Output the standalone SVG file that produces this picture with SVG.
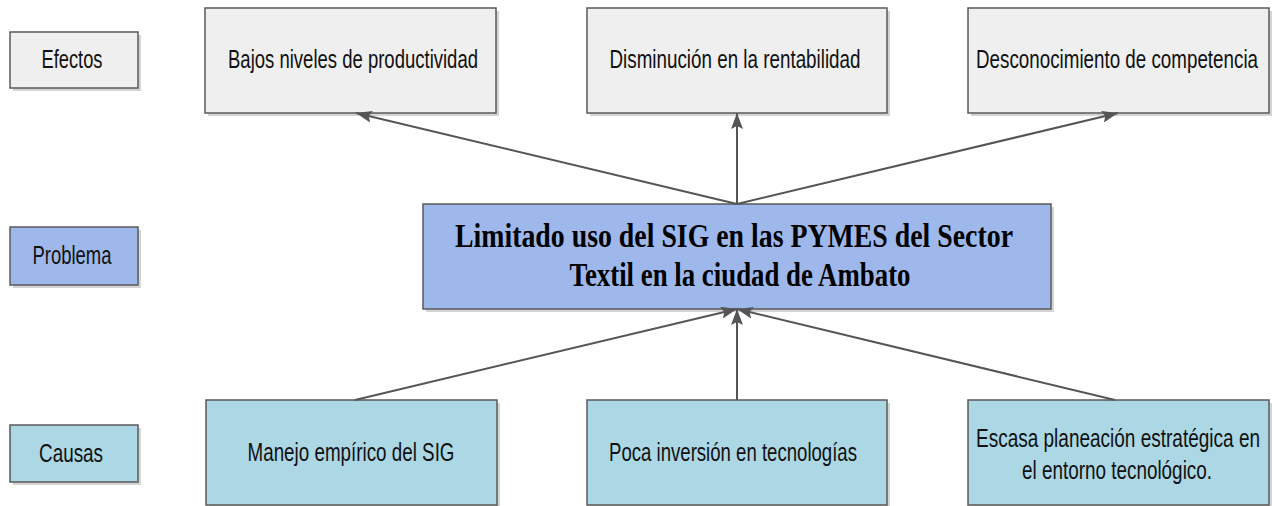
<svg xmlns="http://www.w3.org/2000/svg" width="1272" height="506" viewBox="0 0 1272 506">
<style>
.box{stroke:#5a5a5a;stroke-width:1.5}
.sh{fill:#d4d4d4}
.gray{fill:#efefef}
.blue{fill:#9fb8ec}
.cyan{fill:#acd7e4}
.lbl{font-family:"Liberation Sans",Arial,sans-serif;font-size:18px;fill:#111;text-anchor:middle}
.ttl{font-family:"Liberation Serif","Times New Roman",serif;font-size:33px;font-weight:bold;fill:#000;text-anchor:middle}
.con{stroke:#555;stroke-width:2;fill:none;marker-end:url(#ah)}
</style>
<defs>
<marker id="ah" viewBox="0 0 16 12" refX="16" refY="6" markerWidth="16" markerHeight="12" markerUnits="userSpaceOnUse" orient="auto">
<path d="M0,0 L16,6 L0,12 L3,6 Z" fill="#555"/>
</marker>
</defs>
<rect width="1272" height="506" fill="#fff"/>

<g id="efectos">
<rect class="sh" x="13" y="35" width="128" height="56"/>
<rect class="box gray" x="10" y="32" width="128" height="56"/>
<text class="lbl" transform="translate(72,68) scale(1,1.38)" textLength="61" lengthAdjust="spacingAndGlyphs">Efectos</text>
</g>
<g id="problema">
<rect class="sh" x="13" y="230" width="128" height="58"/>
<rect class="box blue" x="10" y="227" width="128" height="58"/>
<text class="lbl" transform="translate(72,264) scale(1,1.38)" textLength="79" lengthAdjust="spacingAndGlyphs">Problema</text>
</g>
<g id="causas">
<rect class="sh" x="13" y="428" width="128" height="57"/>
<rect class="box cyan" x="10" y="425" width="128" height="57"/>
<text class="lbl" transform="translate(71,462) scale(1,1.38)" textLength="64" lengthAdjust="spacingAndGlyphs">Causas</text>
</g>

<g id="bajos">
<rect class="sh" x="208" y="11" width="291" height="105"/>
<rect class="box gray" x="205" y="8" width="291" height="105"/>
<text class="lbl" transform="translate(353,68) scale(1,1.38)" textLength="250" lengthAdjust="spacingAndGlyphs">Bajos niveles de productividad</text>
</g>
<g id="disminucion">
<rect class="sh" x="590" y="11" width="300" height="105"/>
<rect class="box gray" x="587" y="8" width="300" height="105"/>
<text class="lbl" transform="translate(735,68) scale(1,1.38)" textLength="251" lengthAdjust="spacingAndGlyphs">Disminución en la rentabilidad</text>
</g>
<g id="desconocimiento">
<rect class="sh" x="971" y="11" width="301" height="105"/>
<rect class="box gray" x="968" y="8" width="301" height="105"/>
<text class="lbl" transform="translate(1117,68) scale(1,1.38)" textLength="282" lengthAdjust="spacingAndGlyphs">Desconocimiento de competencia</text>
</g>

<g id="problema-central">
<rect class="sh" x="426" y="207" width="628" height="105"/>
<rect class="box blue" x="423" y="204" width="628" height="105"/>
<text class="ttl" x="734" y="247" textLength="558" lengthAdjust="spacingAndGlyphs">Limitado uso del SIG en las PYMES del Sector</text>
<text class="ttl" x="740" y="286" textLength="341" lengthAdjust="spacingAndGlyphs">Textil en la ciudad de Ambato</text>
</g>

<g id="manejo">
<rect class="sh" x="209" y="403" width="291" height="105"/>
<rect class="box cyan" x="206" y="400" width="291" height="105"/>
<text class="lbl" transform="translate(351,461) scale(1,1.38)" textLength="207" lengthAdjust="spacingAndGlyphs">Manejo empírico del SIG</text>
</g>
<g id="poca">
<rect class="sh" x="590" y="403" width="300" height="105"/>
<rect class="box cyan" x="587" y="400" width="300" height="105"/>
<text class="lbl" transform="translate(733,461) scale(1,1.38)" textLength="248" lengthAdjust="spacingAndGlyphs">Poca inversión en tecnologías</text>
</g>
<g id="escasa">
<rect class="sh" x="971" y="403" width="301" height="105"/>
<rect class="box cyan" x="968" y="400" width="301" height="105"/>
<text class="lbl" transform="translate(1118,447) scale(1,1.38)" textLength="284" lengthAdjust="spacingAndGlyphs">Escasa planeación estratégica en</text>
<text class="lbl" transform="translate(1117,479) scale(1,1.38)" textLength="190" lengthAdjust="spacingAndGlyphs">el entorno tecnológico.</text>
</g>

<g id="connectors">
<line class="con" x1="737" y1="204" x2="356" y2="113"/>
<line class="con" x1="737" y1="204" x2="737" y2="113"/>
<line class="con" x1="737" y1="204" x2="1118" y2="113"/>
<line class="con" x1="355" y1="400" x2="737" y2="309"/>
<line class="con" x1="737" y1="400" x2="737" y2="309"/>
<line class="con" x1="1115" y1="400" x2="737" y2="309"/>
</g>
</svg>
